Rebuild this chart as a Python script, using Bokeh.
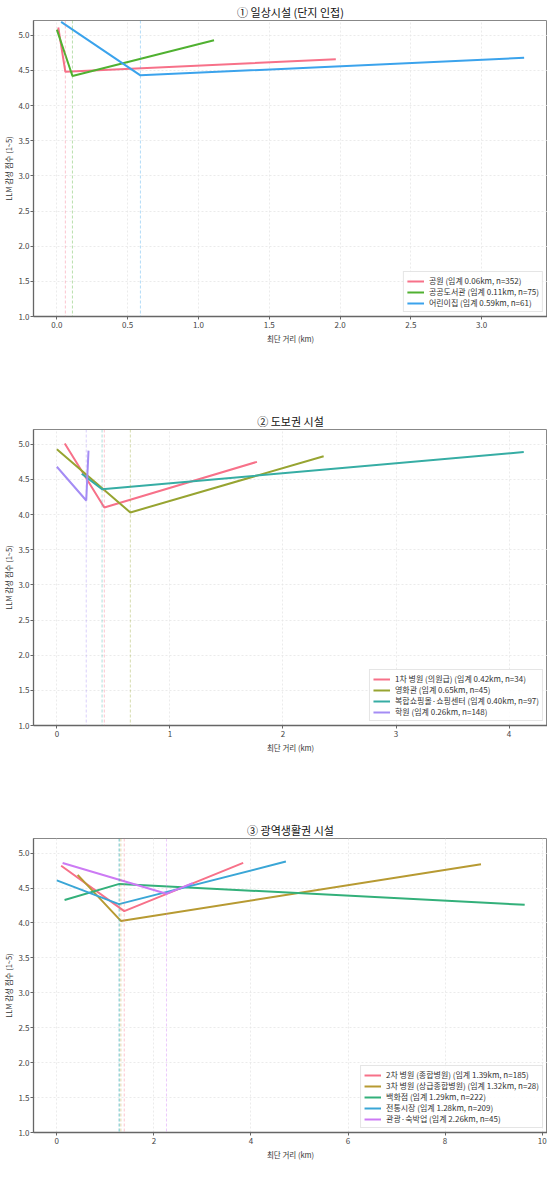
from bokeh.plotting import figure
from bokeh.models import (Range1d, SingleIntervalTicker, NumeralTickFormatter, Span,
                          Legend, LegendItem, ColumnDataSource)
from bokeh.layouts import column
from bokeh.embed import file_html
from bokeh.resources import INLINE

FONT = "Noto Sans CJK KR"

# ---------------- data ----------------
# Panel 1: 일상시설 (단지 인접)
p1_names = ["공원", "공공도서관", "어린이집"]
p1_thresh = [0.06, 0.11, 0.59]
p1_n = [352, 75, 61]
p1_x = [[0.01, 0.06, 1.97], [0.0, 0.11, 1.11], [0.03, 0.59, 3.30]]
p1_y = [[5.11, 4.48, 4.66], [5.08, 4.42, 4.93], [5.19, 4.43, 4.68]]
p1_colors = ["#f77189", "#50b131", "#3ba3ec"]

# Panel 2: 도보권 시설
p2_names = ["1차 병원 (의원급)", "영화관", "복합쇼핑몰·쇼핑센터", "학원"]
p2_thresh = [0.42, 0.65, 0.40, 0.26]
p2_n = [34, 45, 97, 148]
p2_x = [[0.07, 0.42, 1.77], [0.0, 0.65, 2.36], [0.22, 0.40, 4.13], [0.0, 0.26, 0.28]]
p2_y = [[5.01, 4.10, 4.75], [4.93, 4.03, 4.83], [4.58, 4.36, 4.89], [4.68, 4.20, 4.91]]
p2_colors = ["#f77189", "#97a431", "#36ada4", "#a48cf4"]

# Panel 3: 광역생활권 시설
p3_names = ["2차 병원 (종합병원)", "3차 병원 (상급종합병원)", "백화점", "전통시장", "관광·숙박업"]
p3_thresh = [1.39, 1.32, 1.29, 1.28, 2.26]
p3_n = [185, 28, 222, 209, 45]
p3_x = [[0.09, 1.39, 3.84], [0.43, 1.32, 8.74], [0.16, 1.29, 9.64], [0.0, 1.28, 4.72], [0.12, 2.26, 2.80]]
p3_y = [[4.82, 4.17, 4.86], [4.69, 4.03, 4.84], [4.33, 4.56, 4.26], [4.61, 4.27, 4.88], [4.86, 4.42, 4.57]]
p3_colors = ["#f77189", "#b79a32", "#33b07a", "#3aa6d6", "#cc7af4"]

titles = ["① 일상시설 (단지 인접)", "② 도보권 시설", "③ 광역생활권 시설"]
x_label = "최단 거리 (km)"
y_label = "LLM 감성 점수 (1~5)"


def make_panel(title, names, thresh, ns, xs, ys, colors, xr, xstep, xfmt, height, bottom):
    p = figure(width=547, height=height, x_range=Range1d(*xr), y_range=Range1d(1.0, 5.21),
               output_backend="svg", toolbar_location=None, title=title,
               min_border_left=0, min_border_right=0, min_border_top=16,
               min_border_bottom=bottom, background_fill_color="white",
               border_fill_color="white")
    p.title.align = "center"
    p.title.text_font = FONT
    p.title.text_font_size = "11px"
    p.title.text_font_style = "normal"
    p.title.text_color = "#111111"
    p.title.standoff = 2
    p.title.offset = 0

    xt = SingleIntervalTicker(interval=xstep, num_minor_ticks=0)
    yt = SingleIntervalTicker(interval=0.5, num_minor_ticks=0)
    p.xaxis.ticker = xt
    p.yaxis.ticker = yt
    p.xgrid.ticker = xt
    p.ygrid.ticker = yt
    p.xaxis.formatter = NumeralTickFormatter(format=xfmt)
    p.yaxis.formatter = NumeralTickFormatter(format="0.0")

    for ax in (p.xaxis, p.yaxis):
        ax.axis_line_color = "#666666"
        ax.axis_line_width = 1.3
        ax.major_tick_line_color = "#666666"
        ax.major_tick_out = 3
        ax.major_tick_in = 0
        ax.minor_tick_line_color = None
        ax.major_label_text_font = FONT
        ax.major_label_text_font_size = "8px"
        ax.major_label_text_color = "#444444"
        ax.major_label_standoff = 1
        ax.axis_label_text_font = FONT
        ax.axis_label_text_font_size = "7.5px"
        ax.axis_label_text_font_style = "normal"
        ax.axis_label_text_color = "#333333"
        ax.axis_label_standoff = 1
    p.xaxis.axis_label = x_label
    p.yaxis.axis_label = y_label
    p.xaxis.major_label_standoff = 2
    p.xaxis.axis_label_standoff = 2

    p.grid.grid_line_color = "#e6e6e6"
    p.grid.grid_line_dash = "2 2"
    p.grid.grid_line_width = 0.8
    p.outline_line_color = "#888888"
    p.outline_line_width = 1

    items = []
    for name, t, n, x, y, c in zip(names, thresh, ns, xs, ys, colors):
        src = ColumnDataSource(dict(x=x, y=y))
        r = p.line("x", "y", source=src, line_width=2, line_color=c)
        p.add_layout(Span(location=t, dimension="height", line_color=c,
                          line_dash="3 2", line_width=1, line_alpha=0.4))
        items.append(LegendItem(label=f"{name} (임계 {t:.2f}km, n={n})", renderers=[r]))

    leg = Legend(items=items, location="bottom_right")
    leg.label_text_font = FONT
    leg.label_text_font_size = "8px"
    leg.label_text_color = "#333333"
    leg.label_text_line_height = 1.0
    leg.label_height = 8
    leg.glyph_height = 8
    leg.glyph_width = 17
    leg.label_standoff = 5
    leg.spacing = 0
    leg.padding = 3
    leg.margin = 4
    leg.border_line_color = "#cccccc"
    leg.border_line_width = 1
    leg.background_fill_alpha = 0.85
    p.add_layout(leg)
    return p


f1 = make_panel(titles[0], p1_names, p1_thresh, p1_n, p1_x, p1_y, p1_colors,
                (-0.165, 3.465), 0.5, "0.0", 409, 93)
f2 = make_panel(titles[1], p2_names, p2_thresh, p2_n, p2_x, p2_y, p2_colors,
                (-0.2065, 4.34), 1, "0", 409, 93)
f3 = make_panel(titles[2], p3_names, p3_thresh, p3_n, p3_x, p3_y, p3_colors,
                (-0.48, 10.11), 2, "0", 344, 28)

layout = column(f1, f2, f3, spacing=0)
open("out.html", "w").write(file_html(layout, INLINE))
